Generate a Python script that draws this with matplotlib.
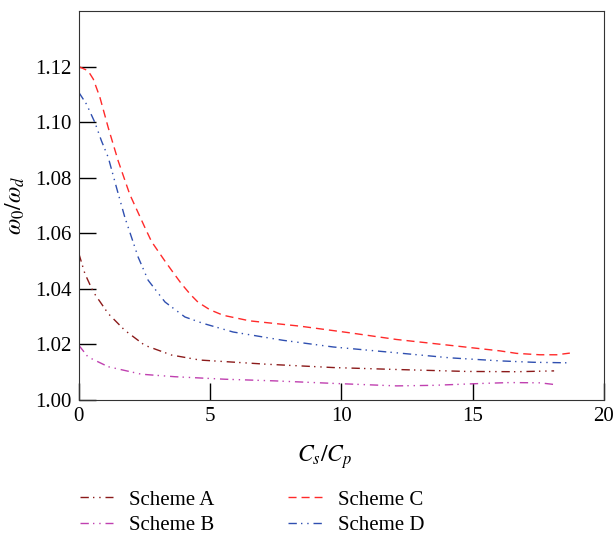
import numpy as np
import matplotlib.pyplot as plt

plt.rcParams['font.family'] = ['Liberation Serif', 'DejaVu Serif']
plt.rcParams['mathtext.fontset'] = 'stix'

# Scheme A
xa = [0, 0.23, 0.55, 1.12, 1.75, 2.51, 3.53, 4.61, 7.15, 9.69, 12.1, 14.77, 16.67, 18.1]
ya = [1.0527, 1.0455, 1.0389, 1.0311, 1.0251, 1.0197, 1.0162, 1.0144, 1.0129, 1.0117, 1.011, 1.0103, 1.0102, 1.0105]
# Scheme B
xb = [0, 0.35, 1.12, 2.38, 3.66, 5.56, 7.47, 9.69, 12.1, 13.5, 15.4, 16.42, 17.56, 18.2]
yb = [1.0197, 1.0155, 1.012, 1.0093, 1.0084, 1.0075, 1.0069, 1.006, 1.0051, 1.0053, 1.006, 1.0063, 1.0062, 1.0055]
# Scheme C
xc = [0, 0.35, 0.55, 0.8, 1.12, 1.5, 1.94, 2.51, 2.77, 3.28, 3.6, 3.91, 4.25, 4.54, 4.99, 5.5, 6.51, 8.42,
      10.32, 12.1, 14.13, 16.04, 16.67, 17.56, 18.2, 18.7]
yc = [1.12, 1.1185, 1.1155, 1.109, 1.098, 1.086, 1.074, 1.0622, 1.0570, 1.0500, 1.0458, 1.0418, 1.0380, 1.0352, 1.0325, 1.0305, 1.0285, 1.0266,
      1.0242, 1.0218, 1.0197, 1.0177, 1.0168, 1.0163, 1.0163, 1.0169]
# Scheme D
xd = [0, 0.29, 0.61, 0.86, 1.12, 1.43, 1.75, 2.26, 2.64, 3.28, 4.04, 4.73, 5.87, 7.78, 9.69,
      12.1, 14.13, 16.04, 17.3, 18.64]
yd = [1.1107, 1.1065, 1.0999, 1.0933, 1.0873, 1.0766, 1.0658, 1.0514, 1.0431, 1.0353, 1.0299, 1.0276, 1.0245, 1.0215, 1.0191,
      1.017, 1.0152, 1.0141, 1.0136, 1.0134]

dd = (0, (6, 3, 1, 3.5, 1, 3.5))  # dash-dot-dot

fig = plt.figure(figsize=(6.16, 5.37), dpi=100)
ax = fig.add_axes([0.128, 0.255, 0.8525, 0.7245])
ax.plot(xa, ya, color='#8b1a1a', lw=1, linestyle=dd, label='Scheme A')
ax.plot(xb, yb, color='#c040b0', lw=1, linestyle=dd, label='Scheme B')
ax.plot(xc, yc, color='#ff2a2a', lw=1, linestyle=(0, (5.8, 3.6)), label='Scheme C')
ax.plot(xd, yd, color='#2f4fb0', lw=1, linestyle=dd, label='Scheme D')

ax.set_xlim(0, 20)
ax.set_ylim(1.0, 1.14)
ax.set_xticks([0, 5, 10, 15, 20])
ax.set_yticks([1.00, 1.02, 1.04, 1.06, 1.08, 1.10, 1.12])
ax.set_yticklabels(['1.00', '1.02', '1.04', '1.06', '1.08', '1.10', '1.12'])
ax.tick_params(direction='in', length=12, width=1, labelsize=15, pad=5)
for s in ax.spines.values():
    s.set_color('#333333')
ax.set_xlabel(r'$C_s/C_p$', fontsize=17, labelpad=10)
ax.xaxis.set_label_coords(0.469, -0.11)
ax.set_ylabel(r'$\omega_0/\omega_d$', fontsize=17, labelpad=6)

fig.legend(loc='upper left', bbox_to_anchor=(0.099, 0.1225), ncol=2, frameon=False,
           fontsize=15, handlelength=1.6, handletextpad=0.77, columnspacing=3.55, labelspacing=0.3)
fig.savefig('out.png', dpi=100)
